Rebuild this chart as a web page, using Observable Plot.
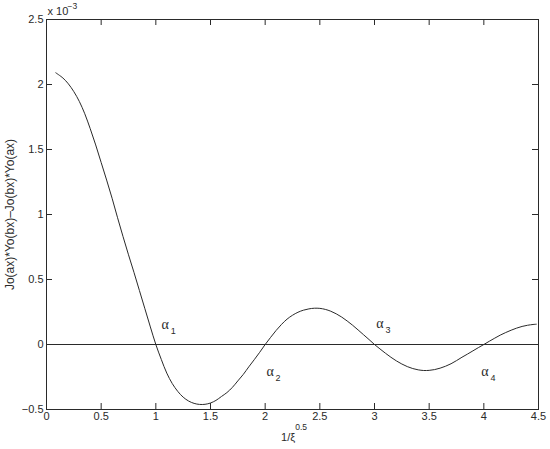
<!DOCTYPE html>
<html><head><meta charset="utf-8">
<script src="https://cdn.jsdelivr.net/npm/d3@7"></script>
<script src="https://cdn.jsdelivr.net/npm/@observablehq/plot@0.6"></script>
<style>body{margin:0;background:#fff}</style>
</head><body><div id="chart"></div>
<script>
const xs = [0.085,0.15,0.2,0.25,0.3,0.35,0.4,0.45,0.5,0.55,0.6,0.65,0.7,0.75,0.8,0.85,0.9,0.95,1.0,
  1.05,1.1,1.15,1.2,1.25,1.3,1.35,1.4,1.45,1.5,1.55,1.6,1.65,1.7,1.75,1.8,1.85,1.9,1.95,2.0,
  2.05,2.1,2.15,2.2,2.25,2.3,2.35,2.4,2.45,2.5,2.55,2.6,2.65,2.7,2.75,2.8,2.85,2.9,2.95,3.0,
  3.05,3.1,3.15,3.2,3.25,3.3,3.35,3.4,3.45,3.5,3.55,3.6,3.65,3.7,3.75,3.8,3.85,3.9,3.95,4.0,
  4.05,4.1,4.15,4.2,4.25,4.3,4.35,4.4,4.45,4.48];
const ys = [2.09,2.05,2.005,1.945,1.87,1.775,1.66,1.535,1.40,1.265,1.125,0.975,0.83,0.69,0.555,0.415,0.275,0.135,0,
  -0.115,-0.22,-0.30,-0.36,-0.405,-0.435,-0.453,-0.461,-0.46,-0.45,-0.43,-0.40,-0.37,-0.33,-0.28,-0.23,-0.172,-0.117,-0.06,0,
  0.055,0.108,0.155,0.195,0.225,0.248,0.264,0.274,0.279,0.278,0.27,0.256,0.236,0.211,0.181,0.148,0.112,0.075,0.038,0,
  -0.034,-0.067,-0.098,-0.126,-0.15,-0.17,-0.185,-0.195,-0.2,-0.199,-0.193,-0.182,-0.167,-0.148,-0.124,-0.098,-0.074,-0.049,-0.024,0,
  0.025,0.049,0.072,0.092,0.11,0.126,0.139,0.148,0.154,0.156];
const xTicks = [0,0.5,1,1.5,2,2.5,3,3.5,4,4.5];
const yTicks = [-0.5,0,0.5,1,1.5,2,2.5];
const rootNames = ["1","2","3","4"];
const rootX = [1.085,2.045,3.05,4.01];
const rootY = [0.15,-0.21,0.16,-0.21];
const yLabel = "Jo(ax)*Yo(bx)\u2013Jo(bx)*Yo(ax)";
const xLabelBase = "1/\u03BE";
const xLabelExp = "0.5";
const scaleBase = "x 10";
const scaleExp = "\u22123";

const W = 550, H = 449, mL = 46, mR = 12, mT = 19, mB = 40;
const xDom = [0, 4.5], yDom = [-0.5, 2.5];
const frameW = W - mL - mR, frameH = H - mT - mB;
const tickLen = 6;
const tx = tickLen * (xDom[1] - xDom[0]) / frameW; // tick length in x units
const ty = tickLen * (yDom[1] - yDom[0]) / frameH; // tick length in y units
const curve = xs.map((x, i) => ({x, y: ys[i]}));
const roots = rootNames.map((n, i) => ({n, x: rootX[i], y: rootY[i]}));
const fmt = d => d < 0 ? "\u2212" + Math.abs(d) : String(d);
const ink = "#2a2a2a";
const sans = "'Liberation Sans', Arial, Helvetica, sans-serif";
const serif = "'Liberation Serif', 'Times New Roman', serif";

const plot = Plot.plot({
  width: W, height: H,
  marginLeft: mL, marginRight: mR, marginTop: mT, marginBottom: mB,
  style: {fontFamily: sans, fontSize: "11px", color: ink, background: "white"},
  x: {domain: xDom},
  y: {domain: yDom},
  marks: [
    Plot.frame({stroke: ink, strokeWidth: 1}),
    Plot.axisX(xTicks, {anchor: "bottom", tickSize: 0, tickPadding: 3, tickFormat: fmt, label: null, fill: ink}),
    Plot.axisY(yTicks, {anchor: "left", tickSize: 0, tickPadding: 3, tickFormat: fmt, label: null, fill: ink}),
    Plot.ruleX(xTicks, {x: d => d, y1: yDom[0], y2: yDom[0] + ty, stroke: ink}),
    Plot.ruleX(xTicks, {x: d => d, y1: yDom[1] - ty, y2: yDom[1], stroke: ink}),
    Plot.ruleY(yTicks, {y: d => d, x1: xDom[0], x2: xDom[0] + tx, stroke: ink}),
    Plot.ruleY(yTicks, {y: d => d, x1: xDom[1] - tx, x2: xDom[1], stroke: ink}),
    Plot.ruleY([0], {x1: xDom[0], x2: xDom[1], stroke: ink, strokeWidth: 1}),
    Plot.line(curve, {x: "x", y: "y", curve: "catmull-rom", stroke: ink, strokeWidth: 1}),
    Plot.text(roots, {x: "x", y: "y", text: () => "\u03B1", fontFamily: serif, fontSize: 14, fill: ink}),
    Plot.text(roots, {x: "x", y: "y", text: "n", dx: 8, dy: 6, fontFamily: sans, fontSize: 9, fill: ink}),
    Plot.text([0], {x: 0, y: 2.5, text: () => scaleBase, textAnchor: "start", dx: 1, dy: -8, fontSize: 11, fill: ink}),
    Plot.text([0], {x: 0, y: 2.5, text: () => scaleExp, textAnchor: "start", dx: 21, dy: -13, fontSize: 8.5, fill: ink}),
    Plot.text([0], {x: 2.275, y: -0.5, text: () => xLabelBase, textAnchor: "end", dy: 28, fontSize: 11, fill: ink}),
    Plot.text([0], {x: 2.275, y: -0.5, text: () => xLabelExp, textAnchor: "start", dy: 18, fontSize: 8.5, fill: ink}),
    Plot.text([0], {frameAnchor: "left", textAnchor: "middle", text: () => yLabel, rotate: -90, dx: -36, fontSize: 12, fill: ink})
  ]
});
document.getElementById("chart").appendChild(plot);
</script>
</body></html>
